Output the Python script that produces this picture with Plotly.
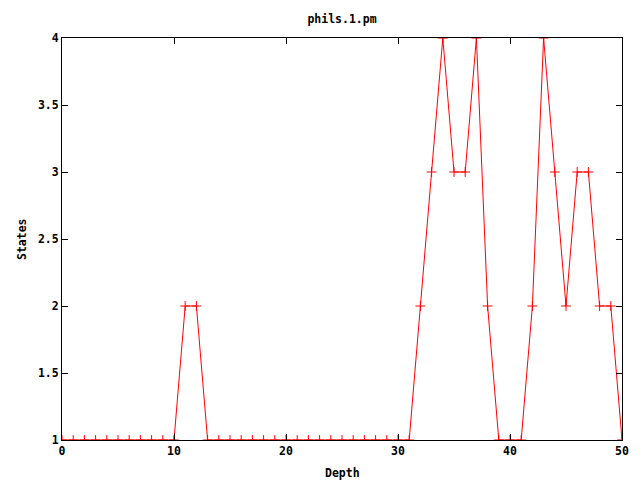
import plotly.graph_objects as go

depth = list(range(0, 51))
states = [1]*11 + [2, 2] + [1]*19 + [2, 3, 4, 3, 3, 4, 2, 1, 1, 1, 2, 4, 3, 2, 3, 3, 2, 2, 1]

x_ticks = [0, 10, 20, 30, 40, 50]
y_ticks = [1, 1.5, 2, 2.5, 3, 3.5, 4]
y_tick_labels = ["1", "1.5", "2", "2.5", "3", "3.5", "4"]

FONT = "DejaVu Sans Mono"
TXT = dict(family=FONT, size=11.5, color="black", weight="bold")

fig = go.Figure()
fig.add_trace(go.Scatter(
    x=depth, y=states, mode="lines+markers",
    line=dict(color="#ff0000", width=1),
    marker=dict(symbol="cross-thin", size=7, line=dict(color="#ff0000", width=1)),
    showlegend=False,
))

axis_common = dict(
    showgrid=False, zeroline=False, showline=True, linecolor="black", linewidth=1,
    mirror="ticks", ticks="inside", ticklen=6, tickcolor="black",
    tickfont=TXT, automargin=False,
)

W, H = 632, 472
ML, MR, MT, MB = 54, 18, 30, 40
PW, PH = W - ML - MR, H - MT - MB

fig.update_layout(
    width=W, height=H,
    margin=dict(l=ML, r=MR, t=MT, b=MB),
    paper_bgcolor="white", plot_bgcolor="white",
    title=dict(text="phils.1.pm", xref="paper", x=0.5, xanchor="center",
               yref="container", y=1 - 11/H, yanchor="middle", font=TXT),
    xaxis=dict(range=[0, 50], tickvals=x_ticks, **axis_common),
    yaxis=dict(range=[1, 4], tickvals=y_ticks, ticktext=y_tick_labels, **axis_common),
    annotations=[
        dict(text="Depth", xref="paper", yref="paper", x=0.5, y=(H - MB - 465) / PH,
             xanchor="center", yanchor="middle", showarrow=False, font=TXT),
        dict(text="States", xref="paper", yref="paper", x=(14 - ML) / PW, y=0.5,
             xanchor="center", yanchor="middle", showarrow=False, textangle=-90, font=TXT),
    ],
)

fig.write_html("out.html")
